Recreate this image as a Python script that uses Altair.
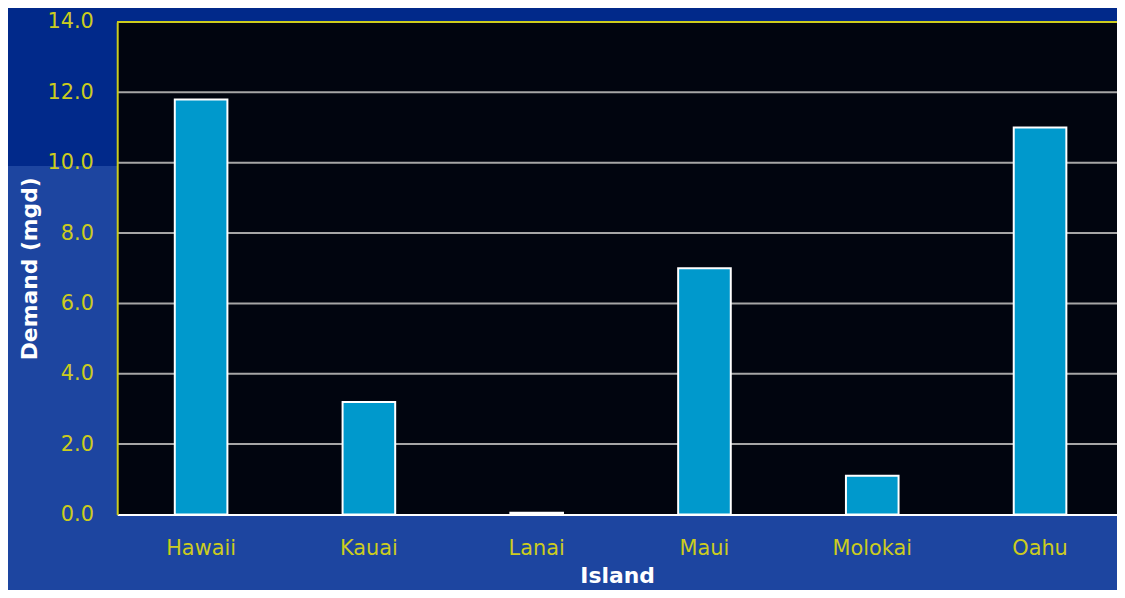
import altair as alt
import pandas as pd

islands = ["Hawaii", "Kauai", "Lanai", "Maui", "Molokai", "Oahu"]
demand = [11.8, 3.2, 0.05, 7.0, 1.1, 11.0]
y_ticks = [0, 2, 4, 6, 8, 10, 12, 14]
grid_values = [2, 4, 6, 8, 10, 12]

W, H = 1007, 496
YELLOW = "#cccc1e"
FONT = "DejaVu Sans"

df = pd.DataFrame({"Island": islands, "Demand": demand})
grid_df = pd.DataFrame({"v": grid_values})

yscale = alt.Scale(domain=[0, 14], nice=False)
xscale = alt.Scale(domain=islands, paddingInner=0.6864, paddingOuter=0.3225, align=0.532)

light_bg = alt.Chart(df).mark_rect(color="#1d45a0").encode(
    x=alt.value(-110), x2=alt.value(W + 10),
    y=alt.value(145), y2=alt.value(H + 80)
)
plot_bg = alt.Chart(df).mark_rect(color="#01050f").encode(
    x=alt.value(0), x2=alt.value(W + 10),
    y=alt.value(0), y2=alt.value(H)
)
grid = alt.Chart(grid_df).mark_rule(color="#a6a6a6", strokeWidth=2).encode(
    y=alt.Y("v:Q", scale=yscale)
)
bars = alt.Chart(df).mark_bar(color="#0099cc", stroke="white", strokeWidth=2).encode(
    x=alt.X("Island:N", scale=xscale, sort=islands,
            axis=alt.Axis(title="Island", labelAngle=0, labelColor=YELLOW,
                          labelFont=FONT, labelFontSize=21, labelPadding=23,
                          ticks=False, domainColor="white", domainWidth=2,
                          titleColor="white", titleFont=FONT, titleFontSize=22,
                          titleFontWeight="bold", titleY=69,
                          titleBaseline="alphabetic", zindex=1)),
    y=alt.Y("Demand:Q", scale=yscale,
            axis=alt.Axis(title="Demand (mgd)", values=y_ticks, format=".1f",
                          grid=False, ticks=False, labelColor=YELLOW,
                          labelFont=FONT, labelFontSize=21, labelPadding=24,
                          domainColor=YELLOW, domainWidth=2,
                          titleColor="white", titleFont=FONT, titleFontSize=22,
                          titleFontWeight="bold", titleX=-88,
                          titleBaseline="middle", zindex=1))
)
top_border = alt.Chart(df).mark_rule(color=YELLOW, strokeWidth=2).encode(
    x=alt.value(0), x2=alt.value(W + 10), y=alt.value(0)
)

chart = alt.layer(light_bg, plot_bg, grid, bars, top_border).properties(
    width=W, height=H,
    padding={"left": 110, "top": 12, "right": 0, "bottom": 74},
    autosize=alt.AutoSizeParams(type="none"),
    background="#01298a",
).configure_view(stroke=None)

chart.save("out.html", embed_options={"renderer": "svg", "actions": False})
